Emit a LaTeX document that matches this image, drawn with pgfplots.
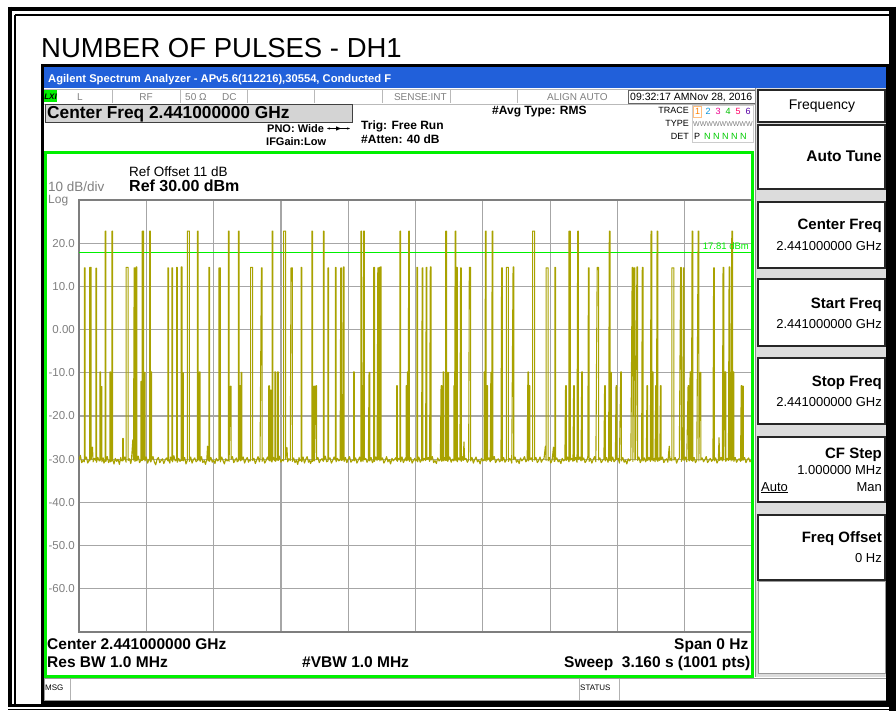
\documentclass[border=0pt]{standalone}
\usepackage{fontspec}
\setmainfont{Liberation Sans}
\usepackage{pgfplots}
\pgfplotsset{compat=1.18}
\usetikzlibrary{arrows.meta}
\newcommand{\fs}[1]{\fontsize{#1}{#1}\selectfont}
\definecolor{tracecol}{HTML}{A9A200}
\definecolor{gridgray}{HTML}{A6A6A6}
\definecolor{framegray}{HTML}{7E7E7E}
\definecolor{labelgray}{HTML}{808080}
\definecolor{scrgreen}{HTML}{00F000}
\definecolor{barblue}{HTML}{2160DA}
\definecolor{boxgray}{HTML}{D4D4D4}
\definecolor{panelgray}{HTML}{DCDCDC}

\begin{document}
\begin{tikzpicture}
\begin{scope}[x=1pt,y=-1pt]
  \useasboundingbox (0,0) rectangle (896,711);
  \fill[white] (0,0) rectangle (896,711);
  % document border
  \draw[line width=4pt] (9.5,9) -- (896,9);
  \draw[line width=4pt] (9.5,7) -- (9.5,707);
  \draw[line width=1.4pt] (15,15) -- (896,15);
  \draw[line width=1.4pt] (15,15) -- (15,704);
  \draw[line width=3pt] (8,705.5) -- (896,705.5);
  \draw[line width=1.4pt] (8,709.6) -- (896,709.6);
  \draw[line width=7pt] (892.5,7) -- (892.5,711);
  \node[anchor=base west, inner sep=0, font=\fs{27.5}] at (41,58) {NUMBER OF PULSES - DH1};
  % analyzer window
  \fill[barblue] (42,66) rectangle (888,88.5);
  \node[anchor=base west, inner sep=0, font=\fs{11.2}\bfseries, text=white] at (48,83)
    {Agilent Spectrum Analyzer - APv5.6(112216),30554, Conducted F};
  % status row
  \draw[gray!55, line width=0.8pt] (44,89.5) -- (755,89.5) (44,104) -- (755,104);
  \foreach \xx in {112,180,247,314,382,450,517}
    \draw[gray!55, line width=0.8pt] (\xx,90) -- (\xx,103.5);
  \fill[scrgreen] (44,90) rectangle (57,102);
  \node[anchor=base, inner sep=0, font=\fs{8}\bfseries\itshape] at (50.5,99.5) {LXI};
  \begin{scope}[every node/.style={inner sep=0, font=\fs{10}, text=labelgray}]
    \node[anchor=base] at (80,100.5) {L};
    \node[anchor=base] at (146,100.5) {RF};
    \node[anchor=base west] at (185,100.5) {50 Ω};
    \node[anchor=base west] at (222,100.5) {DC};
    \node[anchor=base east] at (447,100.5) {SENSE:INT};
    \node[anchor=base west] at (547,100.5) {ALIGN AUTO};
  \end{scope}
  \draw[black!60, line width=0.8pt] (628,90.5) rectangle (755,103.5);
  \node[anchor=base west, inner sep=0, font=\fs{10.5}] at (630,100.7) {09:32:17 AMNov 28, 2016};
  % setting texts
  \filldraw[fill=boxgray, draw=black!75, line width=1pt] (45,105) rectangle (352,123);
  \node[anchor=base west, inner sep=0, font=\fs{17.3}\bfseries] at (47,118.5) {Center Freq 2.441000000 GHz};
  \node[anchor=base west, inner sep=0, font=\fs{11}\bfseries] at (267,132.5) {PNO: Wide};
  \draw[line width=0.7pt, {Stealth[length=3pt]}-{Stealth[length=3pt]}] (327,128.5) -- (350,128.5);
  \fill (336,126.3) -- (341,128.5) -- (336,130.7) -- cycle;
  \node[anchor=base west, inner sep=0, font=\fs{11}\bfseries] at (266,145.5) {IFGain:Low};
  \node[anchor=base west, inner sep=0, font=\fs{12}\bfseries] at (361,129.5) {Trig: Free Run};
  \node[anchor=base west, inner sep=0, font=\fs{12}\bfseries] at (361,143.3) {\#Atten: 40 dB};
  \node[anchor=base west, inner sep=0, font=\fs{12}\bfseries] at (492,115) {\#Avg Type: RMS};
  \begin{scope}[every node/.style={inner sep=0, font=\fs{9}}]
    \node[anchor=base east] at (689,114) {TRACE};
    \node[anchor=base east] at (689,126.7) {TYPE};
    \node[anchor=base east] at (689,140) {DET};
    \node[anchor=base, text=orange] at (697.5,114.5) {1};
    \node[anchor=base, text=cyan!80!blue] at (708,114.5) {2};
    \node[anchor=base, text=magenta] at (718,114.5) {3};
    \node[anchor=base, text=green!75!black] at (728,114.5) {4};
    \node[anchor=base, text=red!60!magenta] at (738,114.5) {5};
    \node[anchor=base, text=violet!70!blue] at (748,114.5) {6};
    \node[anchor=base west, text=labelgray, font=\fs{7}] at (693,126.7) {WWWWWWWWW};
    \node[anchor=base west] at (694,140) {P};
    \node[anchor=base west, text=green!80!black] at (704,140) {N N N N N};
  \end{scope}
  \draw[gray!40, line width=0.7pt] (692,105) rectangle (753,142);
  \draw[orange!50, line width=0.7pt] (693.5,106) rectangle (701.5,117);
  % right soft key panel
  \fill[panelgray] (755,88.5) rectangle (887,677);
  \draw[black!45, line width=1pt] (755.5,88.5) -- (755.5,677);
  \foreach \ya/\yb in {90/122,125/189,202/268,279/346,358/424,437/502,515/580}
    \filldraw[fill=white, draw=black!85, line width=1.3pt] (758,\ya) rectangle (885,\yb);
  \filldraw[fill=white, draw=black!40, line width=0.8pt] (758,581) rectangle (885,673);
  \node[anchor=base, inner sep=0, font=\fs{14}] at (822,110) {Frequency};
  \begin{scope}[every node/.style={inner sep=0, anchor=base east}]
    \node[font=\fs{15.5}\bfseries] at (882,161.7) {Auto Tune};
    \node[font=\fs{15}\bfseries] at (882,229.3) {Center Freq};
    \node[font=\fs{13}] at (882,250.7) {2.441000000 GHz};
    \node[font=\fs{15}\bfseries] at (882,308.3) {Start Freq};
    \node[font=\fs{13}] at (882,328.3) {2.441000000 GHz};
    \node[font=\fs{15}\bfseries] at (882,386) {Stop Freq};
    \node[font=\fs{13}] at (882,406.7) {2.441000000 GHz};
    \node[font=\fs{15}\bfseries] at (882,458.3) {CF Step};
    \node[font=\fs{13}] at (882,474.3) {1.000000 MHz};
    \node[font=\fs{13}] at (882,491) {Man};
    \node[font=\fs{15}\bfseries] at (882,542.3) {Freq Offset};
    \node[font=\fs{13}] at (882,562.7) {0 Hz};
  \end{scope}
  \node[anchor=base west, inner sep=0, font=\fs{13}] at (761,491) {\underline{Auto}};
  % message row
  \filldraw[fill=white, draw=black!40, line width=0.8pt] (44,678.5) rectangle (886,700);
  \draw[black!30, line width=0.8pt] (70,679) -- (70,700) (579,679) -- (579,700) (619,679) -- (619,700);
  \node[anchor=base west, inner sep=0, font=\fs{8}] at (45,690.7) {MSG};
  \node[anchor=base west, inner sep=0, font=\fs{8}] at (580,690.7) {STATUS};
  % window frame
  \draw[line width=3pt] (42.5,65.5) rectangle (887,702);
\end{scope}

\begin{axis}[
  at={(79pt,-632pt)}, anchor=south west,
  width=673pt, height=432pt, scale only axis,
  xmin=0, xmax=1000, ymin=-70, ymax=30,
  xtick={0,100,...,1000}, xticklabels={},
  ytick={-60,-50,...,20},
  yticklabels={-60.0,-50.0,-40.0,-30.0,-20.0,-10.0,0.00,10.0,20.0},
  major tick length=0pt,
  grid=major,
  grid style={draw=gridgray, line width=1.2pt},
  axis line style={draw=framegray, line width=1.6pt},
  yticklabel style={font=\fs{11.5}, text=labelgray, inner sep=0pt, xshift=-4pt},
]
  \addplot[scrgreen, line width=1pt] coordinates {(0,17.81) (1000,17.81)};
  \addplot[tracecol, line width=1.1pt, line join=round] coordinates {
    (0,-30.2)(2,-29.1)(4,-30.8)(6,-30.3)
    (8,-30.6)(8,14.3)(9,14.3)(9,-30.0)(11,-29.5)(13,-30.9)(15,-30.2)
    (16,-30.4)(16,14.4)(18,14.4)(18,-30.1)(20,-27.2)(21,-30.6)(23,-29.8)
    (25,-30.3)(25,14.2)(26,14.2)(26,-30.7)(28,-29.6)(30,-30.4)
    (31,-30.4)(31,-9.8)(32,-9.8)(32,-30.2)
    (33,-13.2)(34,-13.2)(34,-30.6)(36,-29.7)(37,-30.9)
    (39,-30.2)(39,22.8)(40,22.8)(40,-30.5)(42,-29.4)(44,-30.8)
    (46,-30.1)(46,-9.8)(47,-9.8)(47,-30.6)
    (49,-30.3)(49,22.8)(50,22.8)(50,-30.0)(52,-31.1)(54,-29.8)(56,-30.5)(58,-30.0)(60,-31.2)(62,-29.6)(63,-30.3)
    (65,-30.4)(65,-25.2)(66,-25.2)(66,-30.2)(68,-29.5)
    (70,-30.7)(70,14.4)(73,14.4)(73,-30.3)(75,-29.9)(77,-31.0)(78,-30.1)
    (80,-25.5)(81,-30.2)
    (82,14.3)(83,14.3)(83,-30.5)
    (85,-30.1)(85,14.5)(86,14.5)(86,-30.4)(88,-29.3)(90,-30.8)
    (92,-30.2)(92,-12.0)(93,-12.0)(93,-30.3)
    (94,-30.3)(94,22.8)(96,22.8)(96,-30.1)
    (97,-9.9)(98,-9.9)(98,-30.4)(100,-29.5)(102,-30.9)
    (104,-30.0)(105,-30.2)(105,22.8)(106,22.8)(106,-30.6)
    (107,-30.6)(107,-9.8)(108,-9.8)(108,-30.2)(110,-29.4)(112,-30.7)(114,-31.3)(116,-30.0)(118,-29.6)(120,-30.8)(122,-30.3)(124,-29.9)(126,-31.0)(128,-30.2)(130,-29.7)
    (132,-30.4)(132,14.3)(133,14.3)(133,-30.1)(135,-30.9)(136,-29.5)
    (138,-30.3)(138,14.3)(139,14.3)(139,-30.6)(141,-29.2)(143,-30.4)
    (145,-30.0)(145,14.4)(146,14.4)(146,-30.7)(148,-29.8)(150,-30.5)
    (152,-30.2)(152,14.5)(153,14.5)(153,-30.3)
    (154,-10.0)(155,-10.0)(155,-30.4)(157,-29.6)(159,-31.1)
    (161,-30.2)(161,22.8)(164,22.8)(164,-30.5)(166,-29.5)(168,-30.9)(170,-30.1)(172,-29.7)(174,-30.6)
    (176,-30.3)(176,22.8)(177,22.8)(177,-30.0)
    (179,-30.2)(179,-9.8)(180,-9.8)(180,-30.5)(182,-29.4)(184,-30.8)(186,-30.3)(188,-31.2)(190,-29.9)
    (191,-27.0)(192,-30.4)(193,-30.1)(193,14.4)(194,14.4)(194,-30.5)(196,-29.6)(198,-30.7)(200,-30.2)(202,-31.0)(204,-29.8)(206,-30.4)
    (208,-30.1)(208,14.3)(210,14.3)(210,-30.6)(212,-29.5)(214,-30.3)(216,-31.1)(218,-29.9)(220,-30.4)
    (222,-30.2)(222,22.8)(223,22.8)(223,-30.5)
    (225,-13.1)(226,-13.1)(226,-30.0)(228,-29.4)(230,-30.8)(232,-30.2)(234,-29.7)(235,-30.6)
    (237,-30.3)(237,22.8)(238,22.8)(238,-30.1)
    (239,-13.0)(240,-13.0)(240,-30.4)(241,-9.9)(242,-9.9)(242,-30.2)(244,-29.5)(246,-30.9)(248,-30.1)(250,-29.6)(252,-30.7)(253,-30.2)
    (255,-30.4)(255,14.4)(258,14.4)(258,-30.3)(260,-29.8)(262,-31.0)(264,-30.2)(266,-29.4)(268,-30.6)(269,-30.0)
    (271,14.3)(272,14.3)(272,-30.5)(274,-29.7)(276,-30.9)(278,-30.3)(280,-29.5)
    (282,-30.2)(282,-13.0)(283,-13.0)(283,-30.4)(284,-14.0)(285,-14.0)(285,-30.1)(286,-30.6)(287,-30.6)(287,22.8)(288,22.8)(288,-30.2)
    (289,-29.6)(291,-30.4)(291,-9.8)(292,-9.8)(292,-30.5)(294,-29.8)(295,-30.2)(295,-9.8)(296,-9.8)(296,-30.3)(298,-29.3)(300,-30.7)(302,-30.1)
    (304,-30.4)(304,22.8)(307,22.8)(307,-30.0)(309,-27.3)(310,-30.6)(312,-29.9)(314,-30.3)
    (315,14.3)(317,14.3)(317,-30.5)(319,-29.7)(321,-30.8)(323,-30.2)(325,-31.2)(327,-29.6)(328,-30.4)
    (330,-30.1)(330,14.4)(331,14.4)(331,-30.6)(333,-29.5)(335,-30.9)(337,-30.0)(339,-29.4)(341,-30.7)(343,-30.2)(344,-31.0)
    (346,-30.3)(346,22.8)(347,22.8)(347,-30.5)
    (349,-30.2)(349,-13.1)(350,-13.1)(350,-30.4)(352,-13.0)(353,-13.0)(353,-30.1)(355,-29.6)(357,-30.8)(359,-30.2)(361,-29.9)
    (363,-30.5)(363,22.8)(364,22.8)(364,-30.2)(366,-29.3)(368,-30.6)
    (370,-30.4)(370,14.3)(371,14.3)(371,-30.0)(373,-29.7)(375,-30.9)(377,-30.3)(379,-29.5)
    (381,-30.2)(381,14.4)(382,14.4)(382,-30.6)(384,-29.8)(386,-30.4)(388,-30.1)
    (389,14.3)(390,14.3)(390,-30.3)(391,-24.0)(392,-30.2)(393,14.5)(394,14.5)(394,-30.5)(396,-29.6)(398,-30.8)(400,-30.0)(402,-29.4)(404,-30.7)(406,-30.3)
    (408,-30.1)(408,-9.8)(409,-9.8)(409,-30.4)(411,-29.7)(413,-30.9)(415,-30.2)(417,-29.5)
    (419,-30.6)(419,22.8)(420,22.8)(420,-30.3)(421,-13.0)(422,-13.0)(422,-30.5)(423,22.8)(424,22.8)(424,-30.1)(426,-29.8)(428,-30.7)(430,-30.2)
    (431,-9.9)(432,-9.9)(432,-30.4)(434,-29.6)(436,-30.8)
    (438,-30.2)(438,14.4)(439,14.4)(439,-30.5)(441,-29.5)(443,-30.3)
    (444,14.3)(445,14.3)(445,-30.1)(446,14.4)(447,14.4)(447,-30.4)(448,14.5)(449,14.5)(449,-30.2)(451,-29.7)(453,-30.9)(455,-30.3)(457,-29.4)(459,-30.6)(461,-30.1)(463,-31.1)(465,-29.8)(467,-30.4)(469,-30.0)(471,-29.6)
    (472,-30.3)(472,-13.0)(473,-13.0)(473,-30.5)(475,-29.8)
    (477,-30.2)(477,22.8)(478,22.8)(478,-30.6)(480,-29.5)(482,-30.8)(484,-30.1)(485,-29.7)
    (486,-30.3)(486,-13.0)(487,-13.0)(487,-30.4)(488,-9.8)(489,-9.8)(489,-30.2)(490,22.8)(491,22.8)(491,-30.5)(493,-29.6)(495,-30.9)(497,-30.3)(499,-29.8)(500,-30.4)
    (502,-30.1)(502,14.4)(503,14.4)(503,-30.6)(505,-29.5)(507,-30.7)(509,-30.2)
    (510,14.3)(511,14.3)(511,-30.4)(513,-29.8)(515,-30.3)
    (516,14.4)(517,14.4)(517,-30.1)(519,-29.6)(521,-30.5)
    (522,14.5)(523,14.5)(523,-30.2)(525,-29.4)(527,-30.8)(529,-30.3)(531,-31.0)(533,-29.7)(535,-30.4)(537,-30.1)
    (538,-13.0)(539,-13.0)(539,-30.5)(540,-30.2)(541,-30.2)(541,-9.8)(542,-9.8)(542,-30.4)(544,-29.6)(545,-30.3)(545,22.8)(546,22.8)(546,-30.1)(548,-30.5)(548,-9.9)(549,-9.9)(549,-30.2)(551,-29.5)(553,-30.7)(555,-30.0)
    (557,-30.4)(557,-13.0)(558,-13.0)(558,-30.2)(559,22.8)(560,22.8)(560,-30.3)(561,14.4)(562,14.4)(562,-30.6)(564,-29.7)(566,-30.2)
    (567,14.3)(568,14.3)(568,-30.5)(570,-29.4)(571,-30.3)
    (572,-26.0)(573,-30.1)(575,-29.8)(577,-30.7)(579,-30.2)
    (580,14.4)(582,14.4)(582,-30.4)(584,-29.6)(586,-30.9)(588,-30.1)(590,-29.5)(592,-30.6)(594,-30.2)(596,-31.1)(598,-29.8)(600,-30.4)
    (602,-30.1)(602,-9.8)(603,-9.8)(603,-30.3)(604,22.8)(605,22.8)(605,-30.5)(606,-13.0)(607,-13.0)(607,-30.2)(609,-29.7)(611,-30.6)
    (612,-9.9)(613,-9.9)(613,-30.3)(614,22.8)(615,22.8)(615,-30.1)(617,-29.4)(619,-30.8)(621,-30.2)(623,-29.9)(625,-30.6)(627,-30.3)
    (628,14.3)(629,14.3)(629,-30.4)(631,-29.6)(633,-30.7)
    (635,-30.2)(635,14.4)(638,14.4)(638,-30.5)(640,-29.8)(642,-30.3)(643,-30.9)
    (645,14.5)(646,14.5)(646,-30.1)(648,-29.5)(650,-30.7)(652,-30.2)(654,-31.0)(656,-29.7)(658,-30.4)(660,-30.0)(662,-29.4)(664,-30.6)(666,-30.2)
    (667,-9.8)(668,-9.8)(668,-30.4)(669,-13.0)(670,-13.0)(670,-30.1)(672,-29.7)(674,-30.5)(674,22.8)(677,22.8)(677,-30.2)(679,-29.6)(681,-30.8)(683,-30.3)(685,-29.5)(687,-30.7)(689,-30.1)(691,-29.8)
    (693,-27.0)(694,-30.3)(694,14.3)(697,14.3)(697,-30.4)(699,-29.6)(701,-30.9)(703,-30.2)
    (705,-27.2)(706,-30.5)(707,-30.5)(707,14.4)(708,14.4)(708,-30.1)(710,-29.7)(712,-30.6)(714,-30.2)(716,-31.0)(718,-29.8)(720,-30.4)(722,-30.1)
    (723,-13.0)(724,-13.0)(724,-30.3)(726,-29.5)
    (728,-30.6)(728,22.8)(730,22.8)(730,-30.2)(732,-29.8)(734,-30.5)
    (735,-13.0)(736,-13.0)(736,-30.3)(738,-29.6)(740,-30.7)
    (741,22.8)(742,22.8)(742,-30.1)(744,-29.5)(746,-30.4)
    (747,-9.8)(748,-9.8)(748,-30.2)(750,-29.7)(752,-30.8)(754,-30.3)(756,-29.6)
    (757,14.3)(758,14.3)(758,-30.5)(760,-29.8)(762,-30.9)(764,-30.1)(766,-29.4)(768,-30.6)
    (770,14.4)(772,14.4)(772,-30.2)(774,-29.7)(776,-30.8)(778,-30.3)(780,-29.9)
    (781,-13.0)(782,-13.0)(782,-30.4)(784,-29.6)(786,-30.7)(787,-30.1)
    (788,22.8)(789,22.8)(789,-30.3)(790,-9.9)(791,-9.9)(791,-30.5)(793,-29.5)(795,-30.6)(797,-30.2)
    (798,-13.0)(799,-13.0)(799,-30.1)(801,-29.8)(803,-30.9)
    (805,-9.8)(806,-9.8)(806,-30.4)(808,-29.6)(810,-30.7)(812,-30.2)(814,-31.1)(816,-29.9)(818,-30.4)(820,-30.0)
    (822,14.4)(823,14.4)(823,-30.5)(825,14.3)(826,14.3)(826,-30.2)(827,-29.7)(829,14.5)(830,14.5)(830,-30.3)(832,-29.5)(834,-30.8)(836,-30.1)
    (837,14.4)(838,14.4)(838,-30.4)(840,-29.7)(842,-30.6)(843,-30.2)
    (844,-13.0)(845,-13.0)(845,-30.3)(847,-29.6)(849,-30.5)
    (850,22.8)(851,22.8)(851,-30.2)(852,-9.8)(853,-9.8)(853,-30.4)(855,-29.8)(856,-30.6)
    (857,-13.0)(858,-13.0)(858,-30.2)(859,22.8)(860,22.8)(860,-30.5)(862,-29.7)(863,-30.3)
    (864,-13.0)(865,-13.0)(865,-30.1)(867,-29.5)(869,-30.8)(871,-30.2)(873,-29.9)(875,-30.7)
    (877,-27.0)(878,-30.3)(880,-29.8)
    (881,-30.4)(881,14.3)(884,14.3)(884,-30.2)(886,-29.6)(888,-30.9)(890,-30.1)(892,-29.7)
    (894,14.4)(895,14.4)(895,-30.5)(897,-29.8)(898,14.3)(899,14.3)(899,-30.3)(901,-29.5)(903,-30.6)
    (905,-13.0)(906,-13.0)(906,-30.2)(907,-30.4)(908,-9.8)(909,-9.8)(909,-30.1)(910,-30.3)(911,22.8)(912,22.8)(912,-30.5)(914,-29.6)(916,-30.8)(918,-30.2)
    (920,22.8)(921,22.8)(921,-30.4)(923,-9.9)(924,-9.9)(924,-30.2)(926,-29.7)(928,-30.6)(930,-30.1)(932,-29.4)(934,-30.8)(936,-30.3)(938,-29.8)(940,-30.5)(942,-30.1)
    (943,14.3)(944,14.3)(944,-30.4)(946,-29.7)(948,-30.9)(950,-30.2)
    (951,-25.0)(952,-30.3)(954,-29.6)(956,-30.4)
    (957,14.4)(958,14.4)(958,-30.2)(960,-9.8)(961,-9.8)(961,-30.5)(963,-29.8)(965,-30.3)
    (966,14.5)(967,14.5)(967,-30.1)(968,-9.9)(969,-9.9)(969,-30.4)(970,22.8)(971,22.8)(971,-30.2)(972,-9.8)(973,-9.8)(973,-30.5)(975,-29.6)(977,-30.7)(979,-30.2)(981,-29.9)(983,-30.5)
    (984,-13.0)(985,-13.0)(985,-30.3)(986,-13.1)(987,-13.1)(987,-30.2)(989,-29.6)(991,-30.8)(993,-30.1)(995,-29.7)(997,-30.6)(999,-30.2)(1000,-29.9)
  };
\end{axis}

\begin{scope}[x=1pt,y=-1pt]
  % plot frame and annotations
  \draw[scrgreen, line width=3pt] (45.5,152.5) rectangle (752,676);
  \node[anchor=base east, inner sep=0, font=\fs{9.5}, text=scrgreen] at (749,249.5) {17.81 dBm};
  \node[anchor=base west, inner sep=0, font=\fs{13.5}, text=labelgray] at (48,191.5) {10 dB/div};
  \node[anchor=base west, inner sep=0, font=\fs{12}, text=labelgray] at (48,203.5) {Log};
  \node[anchor=base west, inner sep=0, font=\fs{13.5}] at (129,176.7) {Ref Offset 11 dB};
  \node[anchor=base west, inner sep=0, font=\fs{16}\bfseries] at (129,191.7) {Ref 30.00 dBm};
  \node[anchor=base west, inner sep=0, font=\fs{15.5}\bfseries] at (47,649) {Center 2.441000000 GHz};
  \node[anchor=base west, inner sep=0, font=\fs{15.5}\bfseries] at (47,667.7) {Res BW 1.0 MHz};
  \node[anchor=base west, inner sep=0, font=\fs{15.5}\bfseries] at (302,667.7) {\#VBW 1.0 MHz};
  \node[anchor=base east, inner sep=0, font=\fs{15.5}\bfseries] at (748.5,649) {Span 0 Hz};
  \node[anchor=base east, inner sep=0, font=\fs{15.5}\bfseries] at (750.5,667.7) {Sweep\ \ 3.160 s (1001 pts)};
\end{scope}
\end{tikzpicture}
\end{document}
